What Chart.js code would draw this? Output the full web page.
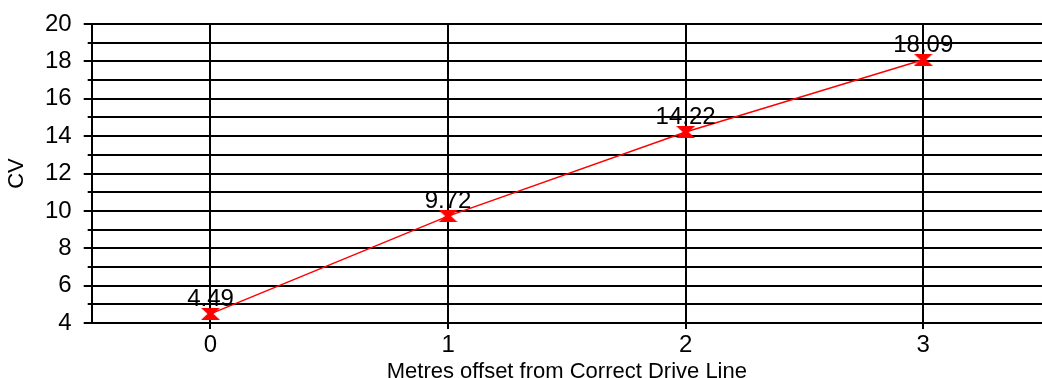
<!DOCTYPE html>
<html>
<head>
<meta charset="utf-8">
<script src="https://cdn.jsdelivr.net/npm/chart.js@4"></script>
<style>
  html, body { margin: 0; padding: 0; background: #fff; }
  #wrap { width: 1042px; height: 378px; position: relative; }
</style>
</head>
<body>
<div id="wrap"><canvas id="cvChart"></canvas></div>
<script>
// chart data
const offsets = ["0", "1", "2", "3"];
const cvValues = [4.49, 9.72, 14.22, 18.09];
const yMin = 4;
const yMax = 20;

const fontFamily = "'Liberation Sans', Arial, sans-serif";
const tickSize = 24;
const titleSize = 22;

// hourglass marker drawn once on a small canvas
function makeMarker() {
  const c = document.createElement("canvas");
  c.width = 19;
  c.height = 12;
  const g = c.getContext("2d");
  g.fillStyle = "#ff0000";
  g.beginPath();
  g.moveTo(0, 0);
  g.lineTo(19, 0);
  g.lineTo(12.5, 6);
  g.lineTo(19, 12);
  g.lineTo(0, 12);
  g.lineTo(6.5, 6);
  g.closePath();
  g.fill();
  return c;
}

// value labels above each point
const valueLabels = {
  id: "valueLabels",
  afterDatasetsDraw(chart) {
    const ctx = chart.ctx;
    const meta = chart.getDatasetMeta(0);
    ctx.save();
    ctx.fillStyle = "#000";
    ctx.font = tickSize + "px " + fontFamily;
    ctx.textAlign = "center";
    ctx.textBaseline = "alphabetic";
    meta.data.forEach((pt, i) => {
      ctx.fillText(cvValues[i].toFixed(2), pt.x, pt.y - 8);
    });
    ctx.restore();
  }
};

// y tick marks: long at even values, short at odd ones
const yTickMarks = {
  id: "yTickMarks",
  afterDraw(chart) {
    const ctx = chart.ctx;
    const y = chart.scales.y;
    const left = chart.chartArea.left;
    ctx.save();
    ctx.strokeStyle = "#000";
    ctx.lineWidth = 2;
    for (let v = yMin; v <= yMax; v++) {
      const py = Math.round(y.getPixelForValue(v));
      const len = v % 2 === 0 ? 8 : 4;
      ctx.beginPath();
      ctx.moveTo(left - len, py);
      ctx.lineTo(left, py);
      ctx.stroke();
    }
    ctx.restore();
  }
};

const ctx = document.getElementById("cvChart").getContext("2d");
new Chart(ctx, {
  type: "line",
  data: {
    labels: offsets,
    datasets: [{
      data: cvValues,
      borderColor: "#ff0000",
      borderWidth: 1.5,
      pointStyle: makeMarker(),
      pointRadius: 6,
      fill: false,
      tension: 0
    }]
  },
  options: {
    responsive: true,
    maintainAspectRatio: false,
    animation: false,
    layout: {
      autoPadding: false,
      padding: { top: 0, right: 0, left: 6, bottom: -5 }
    },
    plugins: {
      legend: { display: false },
      tooltip: { enabled: false }
    },
    scales: {
      x: {
        type: "category",
        offset: true,
        grid: {
          offset: false,
          color: "#000",
          lineWidth: 2,
          drawTicks: true,
          tickLength: 6,
          tickColor: "#000",
          tickWidth: 2
        },
        border: { display: true, color: "#000", width: 2 },
        ticks: {
          color: "#000",
          font: { family: fontFamily, size: tickSize, lineHeight: 1 },
          padding: 4,
          maxRotation: 0
        },
        title: {
          display: true,
          text: "Metres offset from Correct Drive Line",
          color: "#000",
          font: { family: fontFamily, size: titleSize, lineHeight: 1 },
          padding: { top: 0, bottom: 0 }
        }
      },
      y: {
        min: yMin,
        max: yMax,
        grid: {
          color: "#000",
          lineWidth: 2,
          drawTicks: true,
          tickLength: 8,
          tickColor: "rgba(0,0,0,0)"
        },
        border: { display: true, color: "#000", width: 2 },
        ticks: {
          stepSize: 1,
          color: "#000",
          font: { family: fontFamily, size: tickSize, lineHeight: 1 },
          padding: 12,
          autoSkip: false,
          callback: (v) => (v % 2 === 0 ? v : "")
        },
        title: {
          display: true,
          text: "CV",
          color: "#000",
          font: { family: fontFamily, size: titleSize, lineHeight: 1 },
          padding: { top: 0, bottom: 5 }
        }
      }
    }
  },
  plugins: [valueLabels, yTickMarks]
});
</script>
</body>
</html>
